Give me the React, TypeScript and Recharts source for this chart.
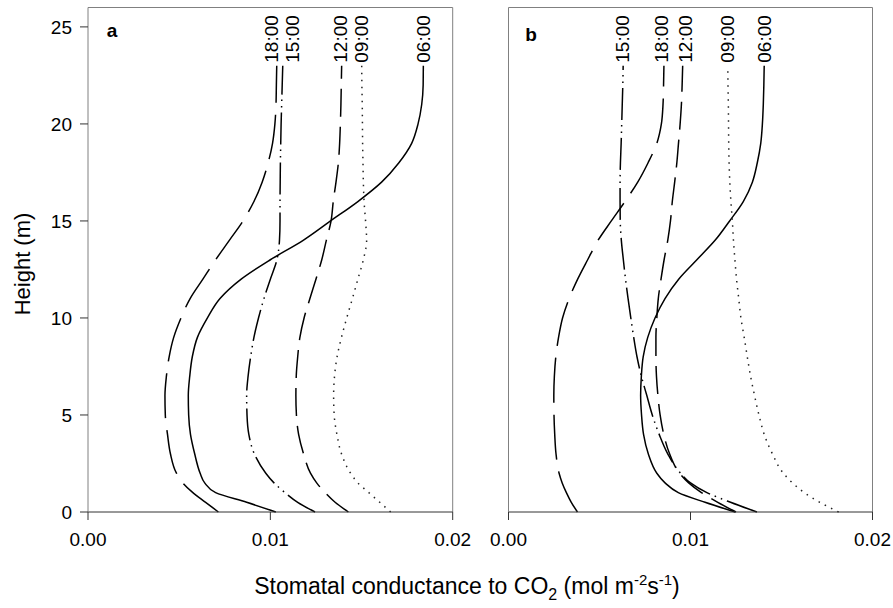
import React from 'react';
import { LineChart, Line, XAxis, YAxis, ReferenceLine } from 'recharts';

// Heights (m) at which each profile was read
const heights = [0, 0.5, 1, 1.5, 2, 3, 4, 5, 6, 7, 8, 9, 10, 11, 12, 13, 14, 15, 16, 17, 18, 19, 20, 21, 22, 23];
const timeLabels = ['06:00', '09:00', '12:00', '15:00', '18:00'];
const seriesKeys = ['t0600', 't0900', 't1200', 't1500', 't1800'];
const xTicks = [0, 0.01, 0.02];
const yTicks = [0, 5, 10, 15, 20, 25];

// Panel a: stomatal conductance to CO2 (mol m-2 s-1)
const a0600 = [0.0103, 0.0087, 0.0070, 0.0064, 0.00615, 0.00585, 0.00562, 0.00552, 0.0055, 0.00558, 0.00572, 0.006, 0.00655, 0.00724, 0.0084, 0.01, 0.0118, 0.0133, 0.0148, 0.0161, 0.01705, 0.01775, 0.0181, 0.0183, 0.01838, 0.01839];
const a0900 = [0.0166, 0.016, 0.0154, 0.0148, 0.0144, 0.0139, 0.01365, 0.0135, 0.01347, 0.01352, 0.01366, 0.0139, 0.01419, 0.0145, 0.0148, 0.0151, 0.01528, 0.01522, 0.01514, 0.0151, 0.01508, 0.01506, 0.01505, 0.01504, 0.01502, 0.01501];
const a1200 = [0.01428, 0.01355, 0.013, 0.01254, 0.0122, 0.01182, 0.01155, 0.01143, 0.0114, 0.01142, 0.0115, 0.01162, 0.01185, 0.01217, 0.0125, 0.01282, 0.01307, 0.01333, 0.01345, 0.0136, 0.01373, 0.0138, 0.01384, 0.01387, 0.01389, 0.01391];
const a1500 = [0.01245, 0.0115, 0.0108, 0.0102, 0.00975, 0.00912, 0.00882, 0.00872, 0.0087, 0.00878, 0.00892, 0.0091, 0.00935, 0.00965, 0.01, 0.01036, 0.0105, 0.01053, 0.01053, 0.01054, 0.01055, 0.01057, 0.01059, 0.01062, 0.01065, 0.01068];
const a1800 = [0.00715, 0.00645, 0.00575, 0.0052, 0.00485, 0.00452, 0.00436, 0.00424, 0.00422, 0.0043, 0.00445, 0.0047, 0.0051, 0.0056, 0.0063, 0.007, 0.00775, 0.0085, 0.0091, 0.00955, 0.00988, 0.01012, 0.01025, 0.01031, 0.01033, 0.01035];

// Panel b
const b0600 = [0.01245, 0.0108, 0.00933, 0.0086, 0.00815, 0.00768, 0.00742, 0.00731, 0.00726, 0.0073, 0.0074, 0.00765, 0.00805, 0.0086, 0.00935, 0.01035, 0.01135, 0.01215, 0.0129, 0.0134, 0.01367, 0.01386, 0.01395, 0.014, 0.01403, 0.01405];
const b0900 = [0.01814, 0.0171, 0.01625, 0.0156, 0.0151, 0.0145, 0.01405, 0.01376, 0.01352, 0.0133, 0.01312, 0.01295, 0.01277, 0.01265, 0.01253, 0.01244, 0.01236, 0.0123, 0.01222, 0.01216, 0.01212, 0.0121, 0.01209, 0.01208, 0.01206, 0.01205];
const b1200 = [0.0125, 0.0115, 0.0106, 0.0099, 0.0094, 0.00885, 0.00853, 0.00833, 0.00821, 0.00813, 0.0081, 0.0081, 0.00815, 0.00823, 0.00838, 0.00855, 0.00875, 0.0089, 0.009, 0.00913, 0.00925, 0.00934, 0.00943, 0.0095, 0.00954, 0.00957];
const b1500 = [0.01365, 0.0122, 0.0109, 0.01, 0.00945, 0.00875, 0.00828, 0.0079, 0.0076, 0.0073, 0.00706, 0.00688, 0.00672, 0.00657, 0.00643, 0.00631, 0.0062, 0.00614, 0.00613, 0.00613, 0.00615, 0.00619, 0.00622, 0.00625, 0.00628, 0.0063];
const b1800 = [0.00379, 0.00345, 0.00318, 0.00295, 0.00278, 0.00261, 0.00254, 0.0025, 0.00249, 0.00252, 0.0026, 0.00275, 0.00297, 0.00333, 0.0038, 0.00435, 0.00492, 0.00565, 0.0064, 0.0071, 0.00767, 0.00815, 0.0084, 0.00849, 0.00852, 0.00854];

const FONT = "'Liberation Sans', Arial, sans-serif";

const lineStyles = [
  { dash: undefined as string | undefined, width: 1.5, color: '#000' },
  { dash: '1.5 5.5', width: 1.5, color: '#222' },
  { dash: '28 10', width: 1.5, color: '#000' },
  { dash: '32 5 1.5 5 1.5 5', width: 1.5, color: '#000' },
  { dash: '45 12', width: 1.5, color: '#000' },
];

function buildRows(series: number[][]) {
  return heights.map((h, i) => {
    const row: Record<string, number> = { h };
    seriesKeys.forEach((k, s) => {
      row[k] = series[s][i];
    });
    return row;
  });
}

const rowsA = buildRows([a0600, a0900, a1200, a1500, a1800]);
const rowsB = buildRows([b0600, b0900, b1200, b1500, b1800]);

function makeLabel(text: string, dx: number, lastIndex: number) {
  return (props: any) => {
    const vb = props.viewBox || {};
    const x = props.x ?? vb.x;
    const y = props.y ?? vb.y;
    if (props.index !== lastIndex || x == null || y == null) return <g />;
    const lx = x + dx;
    const ly = y - 3;
    return (
      <text
        x={lx}
        y={ly}
        transform={`rotate(-90 ${lx} ${ly})`}
        textAnchor="start"
        dominantBaseline="central"
        fontSize={19}
        fontFamily={FONT}
        fill="#000"
      >
        {text}
      </text>
    );
  };
}

type PanelProps = {
  rows: Record<string, number>[];
  left: number;
  width: number;
  yAxisWidth: number;
  rightMargin: number;
  labelDx: number[];
  showYLabels: boolean;
};

function Panel({ rows, left, width, yAxisWidth, rightMargin, labelDx, showYLabels }: PanelProps) {
  const last = heights.length - 1;
  return (
    <div style={{ position: 'absolute', left, top: 0 }}>
      <LineChart
        layout="vertical"
        width={width}
        height={608}
        data={rows}
        margin={{ top: 7.5, right: rightMargin, left: 0, bottom: 56 }}
      >
        <XAxis
          type="number"
          domain={[0, 0.02]}
          ticks={xTicks}
          interval={0}
          allowDataOverflow
          tickFormatter={(v: number) => v.toFixed(2)}
          tickSize={8}
          tickMargin={13}
          height={40}
          axisLine={{ stroke: '#333' }}
          tickLine={{ stroke: '#333' }}
          tick={{ fill: '#000', fontSize: 19, fontFamily: FONT }}
        />
        <YAxis
          type="number"
          dataKey="h"
          domain={[0, 26]}
          ticks={yTicks}
          interval={0}
          reversed
          width={yAxisWidth}
          tickSize={8}
          tickMargin={8}
          axisLine={{ stroke: '#808080' }}
          tickLine={{ stroke: '#333' }}
          tick={showYLabels ? { fill: '#000', fontSize: 19, fontFamily: FONT } : false}
        />
        <ReferenceLine x={0.02} stroke="#808080" />
        <ReferenceLine y={26} stroke="#808080" />
        {seriesKeys.map((k, s) => (
          <Line
            key={k}
            dataKey={k}
            type="monotone"
            stroke={lineStyles[s].color}
            strokeWidth={lineStyles[s].width}
            strokeDasharray={lineStyles[s].dash}
            dot={false}
            activeDot={false}
            isAnimationActive={false}
            label={makeLabel(timeLabels[s], labelDx[s], last)}
          />
        ))}
      </LineChart>
    </div>
  );
}

export default function App() {
  return (
    <div style={{ position: 'absolute', left: 0, top: 0, width: 893, height: 608, background: '#fff' }}>
      <Panel rows={rowsA} left={0} width={475} yAxisWidth={88} rightMargin={22.3} labelDx={[0, 0, -1, 10, -5]} showYLabels />
      <Panel rows={rowsB} left={475} width={418} yAxisWidth={33.5} rightMargin={20.5} labelDx={[0, 0, 3, -1, -2]} showYLabels={false} />
      <svg width={893} height={608} style={{ position: 'absolute', left: 0, top: 0, pointerEvents: 'none' }}>
        <text x={112} y={37} textAnchor="middle" fontSize={19} fontWeight="bold" fontFamily={FONT} fill="#000">a</text>
        <text x={531} y={41} textAnchor="middle" fontSize={19} fontWeight="bold" fontFamily={FONT} fill="#000">b</text>
        <text x={30} y={264} transform="rotate(-90 30 264)" textAnchor="middle" fontSize={22} fontFamily={FONT} fill="#000">Height (m)</text>
        <text x={467} y={594} textAnchor="middle" fontSize={23} fontFamily={FONT} fill="#000">
          Stomatal conductance to CO
          <tspan dy={6} fontSize={16}>2</tspan>
          <tspan dy={-6}> (mol m</tspan>
          <tspan dy={-9} fontSize={15}>-2</tspan>
          <tspan dy={9}>s</tspan>
          <tspan dy={-9} fontSize={15}>-1</tspan>
          <tspan dy={9}>)</tspan>
        </text>
      </svg>
    </div>
  );
}
